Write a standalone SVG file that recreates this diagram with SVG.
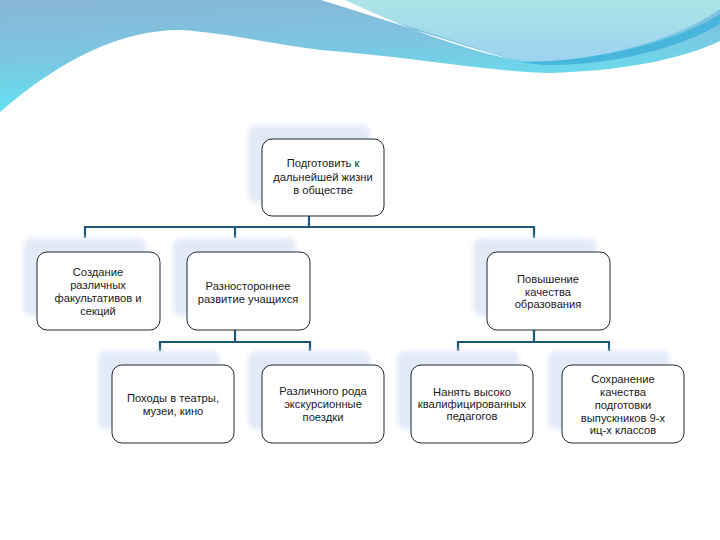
<svg xmlns="http://www.w3.org/2000/svg" width="720" height="540" viewBox="0 0 720 540">
<defs>
<linearGradient id="band" x1="0" y1="0" x2="0.25" y2="1">
<stop offset="0" stop-color="#88b6d6"/>
<stop offset="0.5" stop-color="#7cc6e2"/>
<stop offset="1" stop-color="#5ee6f2"/>
</linearGradient>
<linearGradient id="blob" x1="0" y1="0" x2="0" y2="1">
<stop offset="0" stop-color="#ace4e6"/>
<stop offset="1" stop-color="#9cd2f0"/>
</linearGradient>
<filter id="blur" x="-20%" y="-20%" width="140%" height="140%">
<feGaussianBlur stdDeviation="2.5"/>
</filter>
<style>
.sh{fill:#e3eaf7;filter:url(#blur)}
.bx{fill:#ffffff;stroke:#1c2838;stroke-width:1}
.t{font-family:"Liberation Sans","DejaVu Sans",sans-serif;font-size:11.2px;fill:#1a1a1a;text-anchor:middle}
.c{fill:none;stroke:#1d5878;stroke-width:2.2}
</style>
</defs>
<rect width="720" height="540" fill="#ffffff"/>
<g id="background">
<path d="M0,0 H720 V41 C690,55 640,70 551,73 C500,73 420,58 321,50 C260,42 220,32 180,30 C120,30 60,60 0,112 Z" fill="url(#band)"/>
<path d="M321,0 H720 V9 C690,30 640,52 551,62 C530,62 515,60 505,57 C460,44 420,28 321,0 Z" fill="url(#blob)"/>
<path d="M321,0 C380,18 450,42 510,59 C470,50 420,35 345,0 Z" fill="#ffffff"/>
<path d="M520,62 C600,62 680,40 720,14 V24 C680,48 610,66 545,65 C535,64 527,63 520,62 Z" fill="#3fb2da" opacity="0.85"/>
</g>
<g id="connectors">
<path class="c" d="M309,202 V227 M85,238 V227 H534 V238 M235,227 V238"/>
<path class="c" d="M235,316 V342 M160,351 V342 H310 V351"/>
<path class="c" d="M534,316 V342 M458,351 V342 H609 V351"/>
</g>
<g id="n0">
<rect class="sh" x="248" y="125" width="122" height="77" rx="8"/>
<rect class="bx" x="262" y="139" width="122" height="77" rx="10"/>
<text class="t" x="323" y="167">Подготовить к</text>
<text class="t" x="323" y="181">дальнейшей жизни</text>
<text class="t" x="323" y="194">в обществе</text>
</g>
<g id="n1">
<rect class="sh" x="23" y="238" width="123" height="78" rx="8"/>
<rect class="bx" x="37" y="252" width="123" height="78" rx="10"/>
<text class="t" x="98" y="276">Создание</text>
<text class="t" x="98" y="289">различных</text>
<text class="t" x="98" y="302">факультативов и</text>
<text class="t" x="98" y="315">секций</text>
</g>
<g id="n2">
<rect class="sh" x="173" y="238" width="123" height="78" rx="8"/>
<rect class="bx" x="187" y="252" width="123" height="78" rx="10"/>
<text class="t" x="248" y="290">Разностороннее</text>
<text class="t" x="248" y="303">развитие учащихся</text>
</g>
<g id="n3">
<rect class="sh" x="473" y="238" width="123" height="78" rx="8"/>
<rect class="bx" x="487" y="252" width="123" height="78" rx="10"/>
<text class="t" x="548" y="283">Повышение</text>
<text class="t" x="548" y="296">качества</text>
<text class="t" x="548" y="308">образования</text>
</g>
<g id="n4">
<rect class="sh" x="98" y="351" width="122" height="78" rx="8"/>
<rect class="bx" x="112" y="365" width="122" height="78" rx="10"/>
<text class="t" x="173" y="402">Походы в театры,</text>
<text class="t" x="173" y="415">музеи, кино</text>
</g>
<g id="n5">
<rect class="sh" x="248" y="351" width="122" height="78" rx="8"/>
<rect class="bx" x="262" y="365" width="122" height="78" rx="10"/>
<text class="t" x="323" y="395">Различного рода</text>
<text class="t" x="323" y="408">экскурсионные</text>
<text class="t" x="323" y="421">поездки</text>
</g>
<g id="n6">
<rect class="sh" x="397" y="351" width="122" height="78" rx="8"/>
<rect class="bx" x="411" y="365" width="122" height="78" rx="10"/>
<text class="t" x="472" y="396">Нанять высоко</text>
<text class="t" x="472" y="408">квалифицированных</text>
<text class="t" x="472" y="420">педагогов</text>
</g>
<g id="n7">
<rect class="sh" x="548" y="351" width="122" height="78" rx="8"/>
<rect class="bx" x="562" y="365" width="122" height="78" rx="10"/>
<text class="t" x="623" y="383">Сохранение</text>
<text class="t" x="623" y="396">качества</text>
<text class="t" x="623" y="409">подготовки</text>
<text class="t" x="623" y="422">выпускников 9-х</text>
<text class="t" x="623" y="434">иц-х классов</text>
</g>
</svg>
